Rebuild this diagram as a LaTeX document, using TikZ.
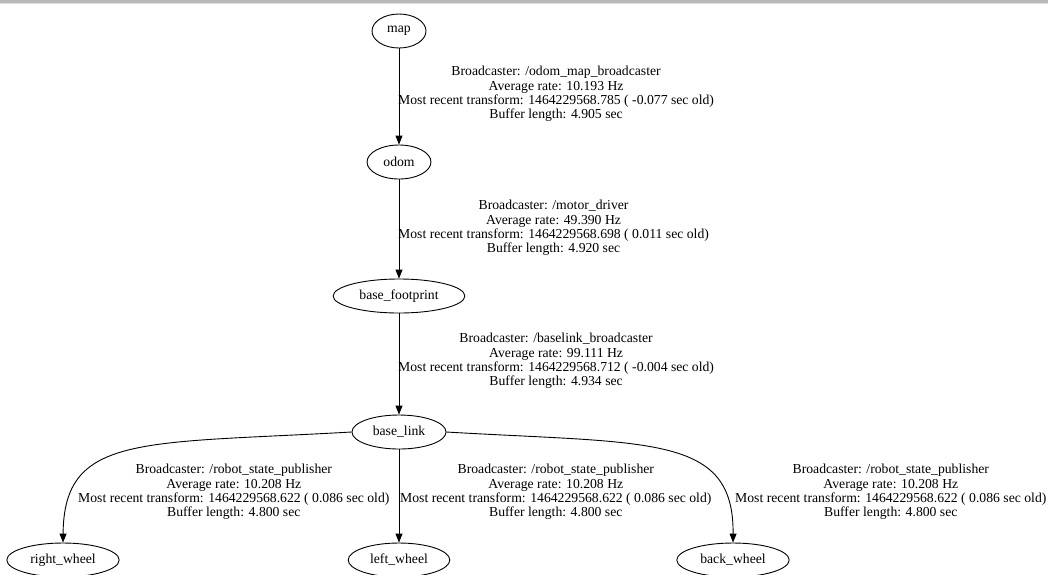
\documentclass[tikz,border=0pt]{standalone}
\usepackage{fontspec}
\setmainfont{Liberation Serif}
\usepackage{tikz}
\usetikzlibrary{shapes.geometric, arrows.meta}
\tikzstyle{frame} = [ellipse, draw=black, line width=0.9pt, minimum width=54pt, minimum height=34pt, inner xsep=7pt, inner ysep=3pt, font=\fontsize{13.7}{14}\selectfont]
\tikzstyle{info} = [anchor=west, inner sep=0pt, align=center, font=\fontsize{13.7}{14.3}\selectfont]
\tikzstyle{arrow} = [line width=0.9pt, ->, >={Triangle[length=9pt, width=7pt]}]

\begin{document}
\begin{tikzpicture}[x=1pt, y=-1pt, node distance=132pt]
          \useasboundingbox (0,0) rectangle (1048,574);
          \fill [gray!55] (0,0) rectangle (1048,2.5);
          \fill [gray!25] (0,2.5) rectangle (1048,4);
          \node (map) [frame] at (399,31) {map};
          \node (odom) [frame, below of=map, yshift=1pt] {odom};
          \node (foot) [frame, below of=odom, yshift=-2pt] {base\_footprint};
          \node (link) [frame, below of=foot, yshift=-4pt] {base\_link};
          \node (left) [frame, below of=link, yshift=4pt] {left\_wheel};
          \node (right) [frame, left of=left, xshift=-204pt] {right\_wheel};
          \node (back) [frame, right of=left, xshift=202pt] {back\_wheel};
          % transform info
          \node (info1) [info] at (398,94) {Broadcaster: /odom\_map\_broadcaster\\Average rate: 10.193 Hz\\Most recent transform: 1464229568.785 ( -0.077 sec old)\\Buffer length: 4.905 sec};
          \node (info2) [info] at (398,228) {Broadcaster: /motor\_driver\\Average rate: 49.390 Hz\\Most recent transform: 1464229568.698 ( 0.011 sec old)\\Buffer length: 4.920 sec};
          \node (info3) [info] at (398,361) {Broadcaster: /baselink\_broadcaster\\Average rate: 99.111 Hz\\Most recent transform: 1464229568.712 ( -0.004 sec old)\\Buffer length: 4.934 sec};
          \node (info4) [info] at (78,492) {Broadcaster: /robot\_state\_publisher\\Average rate: 10.208 Hz\\Most recent transform: 1464229568.622 ( 0.086 sec old)\\Buffer length: 4.800 sec};
          \node (info5) [info] at (400,492) {Broadcaster: /robot\_state\_publisher\\Average rate: 10.208 Hz\\Most recent transform: 1464229568.622 ( 0.086 sec old)\\Buffer length: 4.800 sec};
          \node (info6) [info] at (735,492) {Broadcaster: /robot\_state\_publisher\\Average rate: 10.208 Hz\\Most recent transform: 1464229568.622 ( 0.086 sec old)\\Buffer length: 4.800 sec};
          \draw [arrow] (map) -- (odom);
          \draw [arrow] (odom) -- (foot);
          \draw [arrow] (foot) -- (link);
          \draw [arrow] (link) -- (left);
          \draw [arrow] (link.west) .. controls (140,444) and (64,434) .. (right.north);
          \draw [arrow] (link.east) .. controls (650,444) and (734,434) .. (back.north);
        \end{tikzpicture}
\end{document}
